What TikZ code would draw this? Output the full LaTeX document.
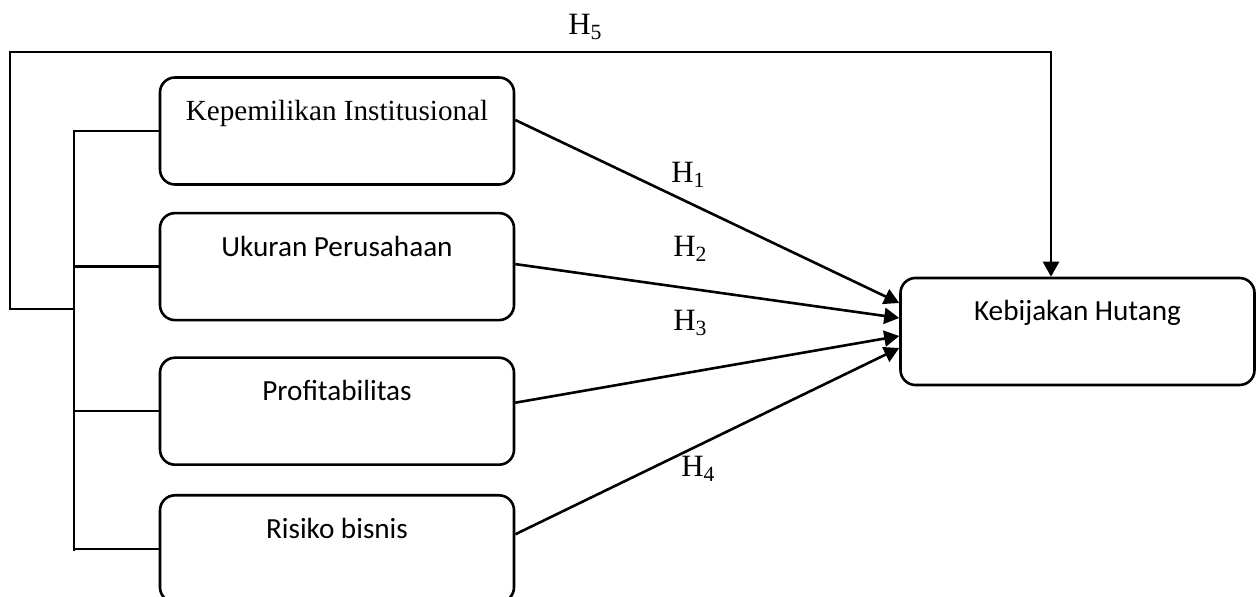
\documentclass[tikz,border=0pt]{standalone}
\usepackage{fontspec}
\setmainfont{Liberation Serif}
\newfontfamily\calibri{Carlito}
\usetikzlibrary{arrows.meta,positioning}

\begin{document}
\begin{tikzpicture}[x=0.5pt,y=-0.5pt,>={Triangle[length=7.5pt,width=8pt]},line width=1.3pt,
box/.style={draw,rounded corners=7.5pt,minimum width=177pt,inner ysep=0pt,
  text height=21.5pt,text depth=32pt,font=\calibri\fontsize{14.6}{18}\selectfont},
hyp/.style={anchor=base west,inner sep=0pt,font=\fontsize{15.5}{18}\selectfont},
arr/.style={->}]
\useasboundingbox (0,0) rectangle (1256,597);
\node[box,font=\fontsize{14.6}{17}\selectfont] (b1) at (337,131) {Kepemilikan Institusional};
\node[box,below=13pt of b1] (b2) {Ukuran Perusahaan};
\node[box,below=17.5pt of b2] (b3) {Profitabilitas};
\node[box,below=14pt of b3] (b4) {Risiko bisnis};
\node[box] (kh) at (1077.5,331.5) {Kebijakan Hutang};
% bracket on the left
\coordinate (bus) at (74,131);
\coordinate (fl) at (10,309);
\coordinate (ft) at (10,52);
\draw (b1.west) -- (bus) -- ([yshift=-1pt]bus |- b4.west);
\draw (b4.west) -- (bus |- b4.west);
\draw (b2.west) -- (bus |- b2.west);
\draw (b3.west) -- (bus |- b3.west);
\draw[arr] (bus |- fl) -- (fl) -- (ft) -| ([xshift=-13.25pt]kh.north);
% paths to the dependent variable
\draw[arr] ([yshift=5.5pt]b1.east) -- ([yshift=14.25pt]kh.west);
\draw[arr] ([yshift=1.25pt]b2.east) -- ([yshift=6.75pt]kh.west);
\draw[arr] ([yshift=4.25pt]b3.east) -- ([yshift=-2.25pt]kh.west);
\draw[arr] ([yshift=7.25pt]b4.east) -- ([yshift=-8.25pt]kh.west);
\node[hyp] (h1) at (670,183) {H\textsubscript{1}};
\node[hyp] (h2) at (672,257) {H\textsubscript{2}};
\node[hyp] (h3) at (672,331) {H\textsubscript{3}};
\node[hyp] (h4) at (680,477) {H\textsubscript{4}};
\node[hyp] (h5) at (567,35) {H\textsubscript{5}};
\end{tikzpicture}
\end{document}
